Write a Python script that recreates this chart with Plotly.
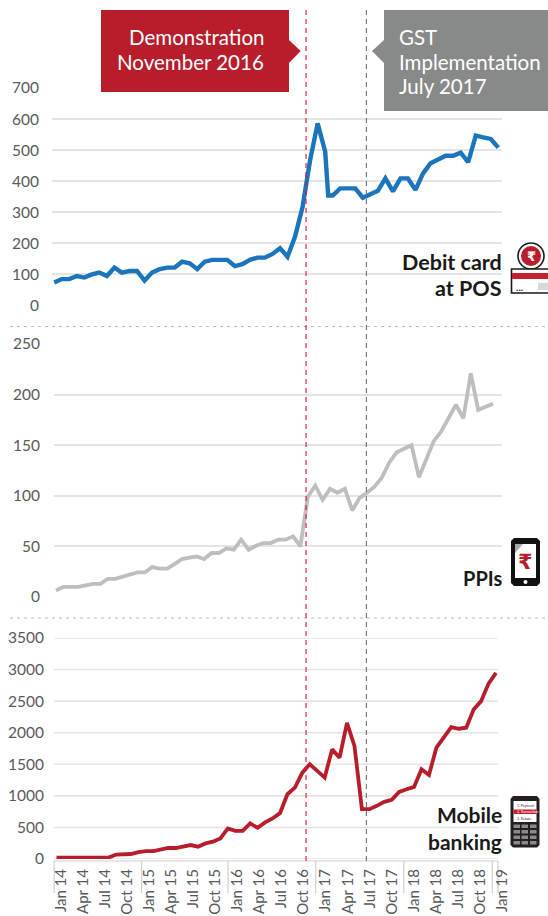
import plotly.graph_objects as go

W, H = 548, 916
FONT = "Lato, 'Open Sans', sans-serif"

# ---------- data ----------
debit_index = list(range(37)) + [36.4] + list(range(37, 60))
debit_index = sorted(debit_index)
debit_pos = [74, 85, 85, 95, 90, 100, 106, 95, 122, 106, 111, 111, 80, 106, 117, 122, 122, 141, 136, 117,
             141, 147, 147, 147, 127, 133, 147, 154, 154, 166, 184, 157, 222, 318, 468, 586, 495, 354,
             354, 377, 377, 377, 347, 358, 369, 409, 367, 409, 409, 372, 425, 458, 470, 482, 482, 492,
             461, 547, 541, 536, 508]
ppi = [6.5, 10, 10, 10, 11.5, 13, 13, 18, 18, 20, 22.7, 24.3, 24.3, 29.6, 28, 28, 32.5, 37.5, 39, 40,
       37.5, 43.5, 43.5, 48, 46.7, 56.6, 46.7, 50.6, 53.3, 53.3, 56.6, 56.6, 60, 50, 99, 110, 96, 107,
       103, 107, 85.5, 98, 103, 109, 118, 133, 143, 147, 150, 118.4, 135.5, 154, 163.5, 176, 190, 176.6,
       221, 185, 188, 191]
mobile = [20, 20, 20, 20, 20, 20, 20, 22, 70, 70, 79, 110, 126, 126, 153, 174, 174, 195, 221, 195,
          247, 274, 326, 484, 447, 447, 563, 494, 579, 642, 726, 1026, 1131, 1368, 1500, 1395, 1290, 1736,
          1605, 2157, 1789, 790, 790, 842, 905, 937, 1063, 1105, 1142, 1421, 1331, 1763, 1936, 2089, 2063,
          2079, 2368, 2500, 2778, 2947]
month_index = list(range(60))
debit_ticks = [0, 100, 200, 300, 400, 500, 600, 700]
ppi_ticks = [0, 50, 100, 150, 200, 250]
mobile_ticks = [0, 500, 1000, 1500, 2000, 2500, 3000, 3500]
date_labels = ["Jan 14", "Apr 14", "Jul 14", "Oct 14", "Jan 15", "Apr 15", "Jul 15", "Oct 15",
               "Jan 16", "Apr 16", "Jul 16", "Oct 16", "Jan 17", "Apr 17", "Jul 17", "Oct 17",
               "Jan 18", "Apr 18", "Jul 18", "Oct 18", "Jan 19"]
label_months = [0, 3, 6, 9, 12, 15, 18, 21, 24, 27, 30, 33, 36, 39, 42, 45, 48, 51, 54, 57, 60]
events = {"Demonstration": 33.5, "GST": 41.6}

# ---------- colours ----------
BLUE = "#1B75BC"; GREY = "#BEBEBE"; RED = "#B81D2B"; BOXGREY = "#888A89"
GRID = "#E4E4E4"; TICK = "#58595B"; SEP = "#B5B5B5"


def px(x): return x / W
def py(y): return 1 - y / H


def xrange_for(dom_l, dom_r, first, last, n=59):
    step = (last - first) / n
    return [(dom_l - first) / step, (dom_r - first) / step], step


r1, s1 = xrange_for(52, 502, 54.2, 498.3)
r2, s2 = xrange_for(54, 502, 56, 493)
r3, s3 = xrange_for(54, 506, 56.5, 496)

fig = go.Figure()
fig.add_trace(go.Scatter(x=debit_index, y=debit_pos, mode="lines", xaxis="x", yaxis="y",
                         line=dict(color=BLUE, width=4.4, shape="linear"), name="Debit card at POS"))
fig.add_trace(go.Scatter(x=month_index, y=ppi, mode="lines", xaxis="x2", yaxis="y2",
                         line=dict(color=GREY, width=3.8), name="PPIs"))
fig.add_trace(go.Scatter(x=month_index, y=mobile, mode="lines", xaxis="x3", yaxis="y3",
                         line=dict(color=RED, width=3.8), name="Mobile banking"))


def yax(domain_top, domain_bot, rng, ticks, anchor, standoff, grid=True):
    return dict(domain=[py(domain_bot), py(domain_top)], range=rng, tickvals=ticks, anchor=anchor, automargin=False,
                showgrid=grid, gridcolor=GRID, gridwidth=1.6, zeroline=False, showline=False, ticks="",
                ticklabelstandoff=standoff, tickfont=dict(family=FONT, size=15.5, color=TICK), fixedrange=True)


# label positions sit a little right of the monthly points, with a slightly narrower spacing
label_pos = [(61 + 7.35 * m - 56.5) / s3 for m in label_months]

fig.update_layout(
    width=W, height=H, margin=dict(l=0, r=0, t=0, b=0, autoexpand=False), paper_bgcolor="white", plot_bgcolor="white",
    showlegend=False, hovermode=False,
    xaxis=dict(domain=[px(52), px(502)], range=r1, visible=False, anchor="y", automargin=False),
    xaxis2=dict(domain=[px(54), px(502)], range=r2, visible=False, anchor="y2", automargin=False),
    xaxis3=dict(domain=[px(54), px(506)], range=r3, anchor="y3", showgrid=False, zeroline=False, showline=False,
                tickmode="array", tickvals=label_pos, ticktext=date_labels, tickangle=-90, ticks="", automargin=False,
                ticklabelstandoff=6, tickfont=dict(family=FONT, size=15, color=TICK)),
    yaxis=yax(88, 305.5, [0, 700], debit_ticks, "x", 12),
    yaxis2=yax(344, 597, [0, 250], ppi_ticks, "x2", 13),
    yaxis3=yax(638, 859, [0, 3500], mobile_ticks, "x3", 9, grid=False),
)

shapes = []
ann = []


def rect(x0, y0, x1, y1, fill, line=None, lw=0, layer="above"):
    shapes.append(dict(type="rect", xref="paper", yref="paper", x0=px(x0), x1=px(x1), y0=py(y0), y1=py(y1),
                       fillcolor=fill, line=dict(color=line or fill, width=lw), layer=layer))


def poly(points, fill):
    d = "M " + " L ".join(f"{px(a):.5f},{py(b):.5f}" for a, b in points) + " Z"
    shapes.append(dict(type="path", xref="paper", yref="paper", path=d, fillcolor=fill, line=dict(width=0)))


def hline(x0, x1, y, color, width, dash="solid"):
    shapes.append(dict(type="line", xref="paper", yref="paper", x0=px(x0), x1=px(x1), y0=py(y), y1=py(y),
                       line=dict(color=color, width=width, dash=dash), layer="below"))


def text(x, y, s, size, color, anchor="left", family=FONT, bold=False):
    ann.append(dict(xref="paper", yref="paper", x=px(x), y=py(y), text=f"<b>{s}</b>" if bold else s,
                    showarrow=False, xanchor=anchor, yanchor="middle",
                    font=dict(family=family, size=size, color=color), align=anchor))


# mobile panel gridlines stop short of the axis end
for t in mobile_ticks:
    shapes.append(dict(type="line", xref="paper", yref="y3", x0=px(54), x1=px(498), y0=t, y1=t,
                       line=dict(color=GRID, width=1.6), layer="below"))
# horizontal base + year separators under the bottom panel
hline(54, 498, 861, "#D0D0D0", 1.2)
for sx in [54.2, 141.6, 228, 315.7, 403.8, 492.3, 498]:
    shapes.append(dict(type="line", xref="paper", yref="paper", x0=px(sx), x1=px(sx), y0=py(861), y1=py(893),
                       line=dict(color="#D0D0D0", width=1.2), layer="below"))
# dashed panel separators
hline(10, 548, 326.5, SEP, 1.1, "3px,4px")
hline(10, 548, 618, SEP, 1.1, "3px,4px")
# event lines
shapes.append(dict(type="line", xref="x3", yref="paper", x0=events["Demonstration"],
                   x1=events["Demonstration"], y0=py(10), y1=py(861),
                   line=dict(color="#E0142C", width=1.1, dash="5px,4px")))
shapes.append(dict(type="line", xref="x3", yref="paper", x0=events["GST"], x1=events["GST"],
                   y0=py(10), y1=py(861), line=dict(color="#6F6F6F", width=1.1, dash="5px,4px")))
# call-out boxes
poly([(101, 10), (289, 10), (289, 40), (300.7, 51), (289, 63), (289, 92), (101, 92)], RED)
poly([(384, 10), (548, 10), (548, 111), (384, 111), (384, 63), (372, 51), (384, 40)], BOXGREY)
text(266, 37, "Demonstration", 20.5, "white", "right")
text(266, 61.5, "November 2016", 20.5, "white", "right")
text(396.5, 37, "GST", 20.5, "white")
text(396.5, 62, "Implementation", 20.5, "white")
text(396.5, 86, "July 2017", 20.5, "white")
# series labels
text(504, 262, "Debit card", 21.5, "#1A1A1A", "right", bold=True)
text(504, 288, "at POS", 21.5, "#1A1A1A", "right", bold=True)
text(504, 578, "PPIs", 20, "#1A1A1A", "right", bold=True)
text(504, 814, "Mobile", 21, "#1A1A1A", "right", bold=True)
text(504, 841, "banking", 21, "#1A1A1A", "right", bold=True)

# ---- debit card icon ----
shapes.append(dict(type="circle", xref="paper", yref="paper", x0=px(518), x1=px(544), y0=py(269), y1=py(243),
                   fillcolor="white", line=dict(color="#1A1A1A", width=1.6)))
shapes.append(dict(type="circle", xref="paper", yref="paper", x0=px(521), x1=px(541), y0=py(266), y1=py(246),
                   fillcolor=RED, line=dict(width=0)))
text(531, 256, "₹", 13, "white", "center", "DejaVu Sans", True)
rect(511.5, 269, 552, 293, "white", "#1A1A1A", 1.6)
rect(512, 273, 552, 279, "#C5202F")
rect(538, 283, 548, 290, "#D5D9DD")
text(519, 287, "...", 10, "#1A1A1A", "center", bold=True)

# ---- PPI phone icon ----
shapes.append(dict(type="path", xref="paper", yref="paper", fillcolor="#111111", line=dict(width=0),
                   path=" ".join([f"M {px(514):.5f},{py(538):.5f}", f"L {px(537):.5f},{py(538):.5f}",
                                  f"L {px(540):.5f},{py(541):.5f}", f"L {px(540):.5f},{py(583):.5f}",
                                  f"L {px(537):.5f},{py(586):.5f}", f"L {px(514):.5f},{py(586):.5f}",
                                  f"L {px(511):.5f},{py(583):.5f}", f"L {px(511):.5f},{py(541):.5f}", "Z"])))
rect(515, 544, 536, 578, "white")
poly([(515, 544), (523, 544), (515, 553)], "#A8A8A8")
text(525, 562, "₹", 21, RED, "center", "DejaVu Sans", True)
shapes.append(dict(type="circle", xref="paper", yref="paper", x0=px(523.5), x1=px(527.5), y0=py(584), y1=py(580),
                   fillcolor="white", line=dict(width=0)))

# ---- mobile handset icon ----
shapes.append(dict(type="path", xref="paper", yref="paper", fillcolor="#231F20", line=dict(width=0),
                   path=" ".join([f"M {px(513):.5f},{py(796):.5f}", f"L {px(537):.5f},{py(796):.5f}",
                                  f"L {px(539.5):.5f},{py(799):.5f}", f"L {px(539.5):.5f},{py(845):.5f}",
                                  f"L {px(537):.5f},{py(847.5):.5f}", f"L {px(513):.5f},{py(847.5):.5f}",
                                  f"L {px(510.5):.5f},{py(845):.5f}", f"L {px(510.5):.5f},{py(799):.5f}", "Z"])))
rect(513.5, 801, 536.5, 822, "white")
rect(513.5, 809.5, 536.5, 814, "#C5202F")
text(515, 805.5, "1. Payment", 3.5, "#333333")
text(515, 812, "2. Transaction", 3.5, "white")
text(515, 818.5, "3. Rebate", 3.5, "#333333")
for row_y in [824.5, 830, 835.5, 841]:
    for col_x in [513.5, 521.5, 530]:
        rect(col_x, row_y, col_x + 6.5, row_y + 3.5, "#8A8A8A")

fig.update_layout(shapes=shapes, annotations=ann)
fig.write_html("out.html", include_plotlyjs=True, config={"displayModeBar": False},
               post_script="document.body.style.margin='0';document.body.style.overflow='hidden';")
